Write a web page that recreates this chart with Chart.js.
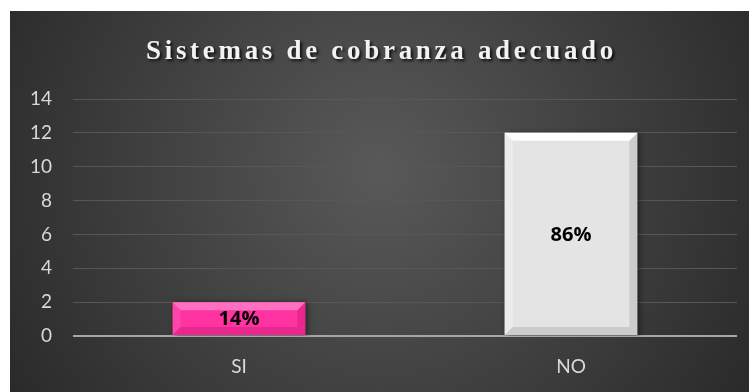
<!DOCTYPE html>
<html>
<head>
<meta charset="utf-8">
<script src="https://cdn.jsdelivr.net/npm/chart.js@4/dist/chart.umd.min.js"></script>
<style>
  html, body { margin: 0; padding: 0; background: #ffffff; }
  #wrap { position: absolute; left: 10px; top: 11px; width: 739px; height: 381px; }
</style>
</head>
<body>
<div id="wrap"><canvas id="chart"></canvas></div>
<script>
// Data
const categories = ['SI', 'NO'];
const counts = [2, 12];
const percentLabels = ['14%', '86%'];
const titleText = 'Sistemas de cobranza adecuado';
const yMax = 14;
const yStep = 2;

// Colours
const barColors = ['#ff33a1', '#e4e4e4'];
const bevelLight = ['rgba(255,120,195,0.9)', 'rgba(255,255,255,1)'];
const bevelDark = ['rgba(170,0,90,0.25)', 'rgba(0,0,0,0.10)'];

// Dark radial background
const backgroundPlugin = {
  id: 'background',
  beforeDraw(chart) {
    const { ctx, width, height } = chart;
    const g = ctx.createRadialGradient(width * 0.5, height * 0.42, 10, width * 0.5, height * 0.42, width * 0.62);
    g.addColorStop(0, '#585858');
    g.addColorStop(1, '#272727');
    ctx.save();
    ctx.fillStyle = g;
    ctx.fillRect(0, 0, width, height);
    ctx.restore();
  },
};

// Title with letter spacing and a soft shadow
const titlePlugin = {
  id: 'spacedTitle',
  afterDraw(chart) {
    const { ctx, width } = chart;
    ctx.save();
    ctx.font = 'bold 27px "Liberation Serif", "DejaVu Serif", serif';
    ctx.letterSpacing = '3.7px';
    ctx.textAlign = 'center';
    ctx.textBaseline = 'alphabetic';
    ctx.shadowColor = 'rgba(0,0,0,0.8)';
    ctx.shadowBlur = 3;
    ctx.shadowOffsetX = 2;
    ctx.shadowOffsetY = 2;
    ctx.fillStyle = '#f2f2f2';
    ctx.fillText(titleText, width / 2 + 2, 48);
    ctx.restore();
  },
};

// Shadow behind the bars
const shadowPlugin = {
  id: 'barShadow',
  beforeDatasetsDraw(chart) {
    const ctx = chart.ctx;
    ctx.save();
    ctx.shadowColor = 'rgba(0,0,0,0.55)';
    ctx.shadowBlur = 6;
    ctx.shadowOffsetX = 2;
    ctx.shadowOffsetY = 1;
  },
  afterDatasetsDraw(chart) {
    chart.ctx.restore();
  },
};

// Bevel edges and value labels drawn on the bar elements
const bevelPlugin = {
  id: 'bevel',
  afterDatasetsDraw(chart) {
    const ctx = chart.ctx;
    const meta = chart.getDatasetMeta(0);
    meta.data.forEach((bar, i) => {
      const p = bar.getProps(['x', 'y', 'base', 'width'], true);
      const l = p.x - p.width / 2;
      const r = p.x + p.width / 2;
      const t = p.y;
      const b = p.base;
      const d = Math.min(8, (b - t) / 4);
      ctx.save();
      // top
      ctx.fillStyle = bevelLight[i];
      ctx.beginPath();
      ctx.moveTo(l, t); ctx.lineTo(r, t); ctx.lineTo(r - d, t + d); ctx.lineTo(l + d, t + d);
      ctx.closePath(); ctx.fill();
      // left
      ctx.globalAlpha = 0.3;
      ctx.beginPath();
      ctx.moveTo(l, t); ctx.lineTo(l + d, t + d); ctx.lineTo(l + d, b - d); ctx.lineTo(l, b);
      ctx.closePath(); ctx.fill();
      ctx.globalAlpha = 1;
      // right
      ctx.fillStyle = bevelDark[i];
      ctx.beginPath();
      ctx.moveTo(r, t); ctx.lineTo(r - d, t + d); ctx.lineTo(r - d, b - d); ctx.lineTo(r, b);
      ctx.closePath(); ctx.fill();
      // bottom
      ctx.beginPath();
      ctx.moveTo(l, b); ctx.lineTo(l + d, b - d); ctx.lineTo(r - d, b - d); ctx.lineTo(r, b);
      ctx.closePath(); ctx.fill();

      // value label
      ctx.fillStyle = '#000000';
      ctx.font = 'bold 20px "Open Sans", "Liberation Sans", sans-serif';
      ctx.textAlign = 'center';
      ctx.textBaseline = 'middle';
      ctx.fillText(percentLabels[i], p.x, (t + b) / 2 + 1);
      ctx.restore();
    });
  },
};

function initChart() {
  const ctx = document.getElementById('chart').getContext('2d');
  return new Chart(ctx, {
    type: 'bar',
    data: {
      labels: categories,
      datasets: [{
        data: counts,
        backgroundColor: barColors,
        borderWidth: 0,
        barPercentage: 0.4,
        categoryPercentage: 1,
      }],
    },
    options: {
      responsive: true,
      maintainAspectRatio: false,
      animation: false,
      layout: {
        padding: { top: 88, left: 0, right: 12, bottom: 0 },
      },
      plugins: {
        legend: { display: false },
        title: { display: false },
        tooltip: { enabled: false },
      },
      scales: {
        x: {
          grid: { display: false },
          border: { display: false },
          afterFit: (scale) => { scale.height = 56; },
          ticks: {
            color: '#d9d9d9',
            padding: 11,
            font: { family: 'Lato, "Open Sans", sans-serif', size: 19 },
          },
        },
        y: {
          min: 0,
          max: yMax,
          border: { display: false },
          afterFit: (scale) => { scale.width = 63; },
          grid: {
            color: (c) => (c.tick && c.tick.value === 0 ? '#a6a6a6' : '#575757'),
            lineWidth: (c) => (c.tick && c.tick.value === 0 ? 2 : 1),
            drawTicks: false,
          },
          ticks: {
            stepSize: yStep,
            color: '#d9d9d9',
            padding: 21,
            font: { family: 'Lato, "Open Sans", sans-serif', size: 19 },
          },
        },
      },
    },
    plugins: [backgroundPlugin, shadowPlugin, bevelPlugin, titlePlugin],
  });
}

document.addEventListener('DOMContentLoaded', () => {
  initChart();
});
</script>
</body>
</html>
